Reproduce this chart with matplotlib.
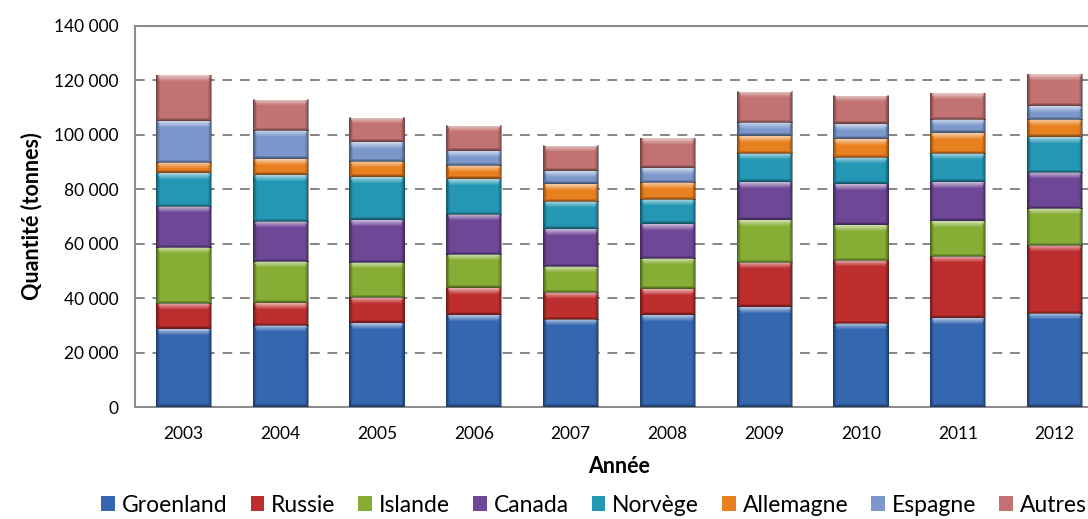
import numpy as np
import matplotlib
matplotlib.use("Agg")
import matplotlib.pyplot as plt
from matplotlib.patches import Patch
from matplotlib.ticker import FuncFormatter

plt.rcParams['font.family'] = ['Lato', 'DejaVu Sans']

years = ['2003', '2004', '2005', '2006', '2007', '2008', '2009', '2010', '2011', '2012']
series_names = ['Groenland', 'Russie', 'Islande', 'Canada', 'Norvège', 'Allemagne', 'Espagne', 'Autres']

groenland = [28500, 29800, 30700, 33800, 32000, 33800, 36600, 30500, 32600, 34200]
russie    = [9200, 8300, 9200, 9800, 10000, 9400, 16400, 23200, 22600, 25000]
islande   = [20600, 15300, 13100, 12300, 9600, 11300, 15700, 13200, 13200, 13600]
canada    = [15300, 14700, 15700, 14700, 13800, 12600, 13900, 14900, 14200, 13300]
norvege   = [12300, 17200, 15700, 13200, 10000, 9000, 10300, 9800, 10300, 13000]
allemagne = [3900, 5700, 5800, 4900, 6600, 6300, 6500, 6900, 7700, 6400]
espagne   = [15300, 10400, 7100, 5500, 4700, 5300, 4800, 5400, 4900, 5100]
autres    = [16900, 11400, 9000, 9200, 9200, 11000, 11700, 10400, 9800, 11700]

series = [groenland, russie, islande, canada, norvege, allemagne, espagne, autres]
colors = ['#3567B0', '#BE2E2E', '#86AD34', '#6F4797', '#2497B4', '#E9801F', '#7B97CB', '#C27272']

W, H = 1088, 519
fig = plt.figure(figsize=(W / 100, H / 100), dpi=100)
ax = fig.add_axes([135 / W, 112 / H, 968 / W, 381 / H])

x = np.arange(len(years))
bar_w = 0.57
ymax = 140000
px_per_unit = 381 / ymax
bar_px = bar_w * 968 / len(years)

bottom = np.zeros(len(years))
for vals, col in zip(series, colors):
    vals = np.array(vals, dtype=float)
    bars = ax.bar(x, vals, bar_w, bottom=bottom, color=col, edgecolor='none', zorder=3)
    for rect in bars:
        bx, by = rect.get_x(), rect.get_y()
        bw, bh = rect.get_width(), rect.get_height()
        ph = max(int(round(bh * px_per_unit)), 3)
        pw = max(int(round(bar_px)), 3)
        img = np.zeros((ph, pw, 4))
        rows = np.arange(ph)[:, None].astype(float)
        cols = np.arange(pw)[None, :].astype(float)
        top_a = np.clip(1 - rows / 6.0, 0, 1) * 0.6
        bot_a = np.clip(1 - (ph - 1 - rows) / 3.0, 0, 1) * 0.45
        side_d = np.minimum(cols, pw - 1 - cols)
        side_a = np.clip(1 - side_d / 3.5, 0, 1) * 0.4
        light = np.broadcast_to(top_a, (ph, pw)) * np.clip(side_d / 4.0, 0.3, 1)
        dark = np.maximum(np.broadcast_to(bot_a, (ph, pw)), side_a)
        alpha = np.maximum(light, dark)
        rgb = np.where((light >= dark)[..., None], 1.0, 0.0)
        img[..., :3] = rgb
        img[..., 3] = alpha
        ax.imshow(img, extent=[bx, bx + bw, by, by + bh], aspect='auto',
                  interpolation='bilinear', zorder=4, origin='upper')
    bottom += vals

ax.set_xlim(-0.5, len(years) - 0.5)
ax.set_ylim(0, ymax)
ax.set_aspect('auto')
ax.set_yticks(np.arange(0, ymax + 1, 20000))
ax.yaxis.set_major_formatter(FuncFormatter(lambda v, p: f"{int(v):,}".replace(',', ' ')))
ax.set_xticks(x)
ax.set_xticklabels(years)
ax.tick_params(axis='both', length=0, labelsize=12.5, colors='black')
ax.tick_params(axis='y', pad=12)
ax.tick_params(axis='x', pad=14)

for v in range(20000, ymax, 20000):
    ax.axhline(v, color='#858585', linewidth=1.4, linestyle=(0, (5, 4)), zorder=1)

for s in ax.spines.values():
    s.set_color('#8C8C8C')
    s.set_linewidth(1.5)

ax.set_xlabel('Année', fontsize=15.5, fontweight='bold', labelpad=10)
ax.set_ylabel('Quantité (tonnes)', fontsize=15.5, fontweight='bold', labelpad=8)

handles = [Patch(facecolor=c, edgecolor='none') for c in colors]
fig.legend(handles, series_names, loc='center', bbox_to_anchor=(594 / W, 14 / H),
           ncol=8, frameon=False, fontsize=16.5, handlelength=0.6, handleheight=0.6,
           handletextpad=0.3, columnspacing=1.0, borderaxespad=0, borderpad=0)

fig.savefig('out.png', dpi=100)
